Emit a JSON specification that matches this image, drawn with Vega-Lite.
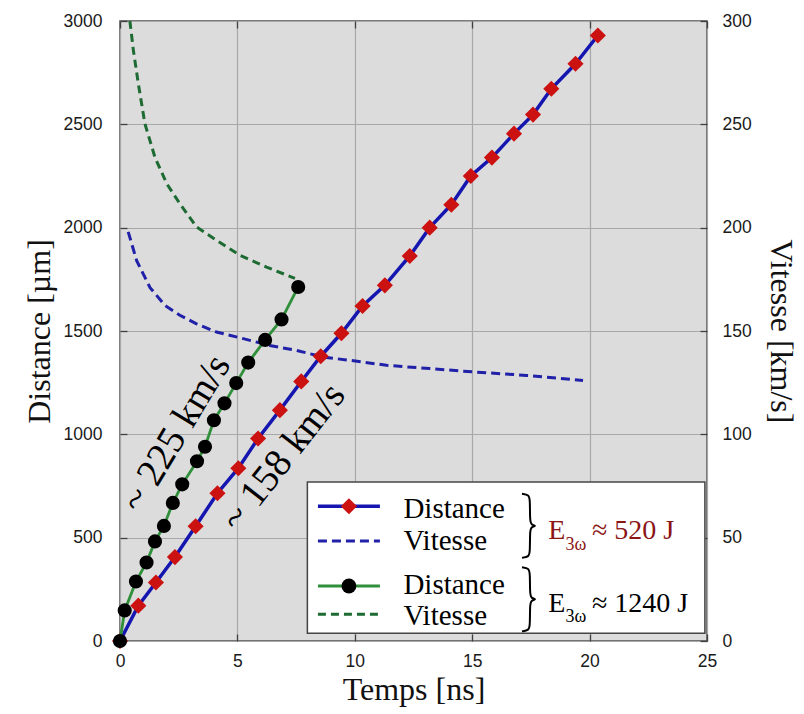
{
  "$schema": "https://vega.github.io/schema/vega-lite/v6.json",
  "width": 587,
  "height": 620,
  "autosize": {"type": "none"},
  "padding": {"left": 120, "top": 21, "right": 97, "bottom": 73},
  "background": "white",
  "config": {
    "view": {"fill": "#dcdcdc", "stroke": "#505050", "strokeWidth": 1.5},
    "axis": {
      "labelFont": "Liberation Sans", "labelFontSize": 17.5, "labelColor": "#1a1a1a",
      "titleFont": "Liberation Serif", "titleFontSize": 32, "titleFontWeight": "normal", "titleColor": "#111111",
      "gridColor": "#a8a8a8", "gridWidth": 1.2, "gridOpacity": 1,
      "domain": false, "tickColor": "#404040", "tickWidth": 1.3, "tickSize": -7
    }
  },
  "datasets": {
    "dist": [
      {"s": "E520", "t": 0, "d": 0}, {"s": "E520", "t": 0.78, "d": 171}, {"s": "E520", "t": 1.53, "d": 283},
      {"s": "E520", "t": 2.34, "d": 406}, {"s": "E520", "t": 3.22, "d": 555}, {"s": "E520", "t": 4.15, "d": 715},
      {"s": "E520", "t": 5.04, "d": 836}, {"s": "E520", "t": 5.88, "d": 980}, {"s": "E520", "t": 6.81, "d": 1117},
      {"s": "E520", "t": 7.72, "d": 1256}, {"s": "E520", "t": 8.55, "d": 1378}, {"s": "E520", "t": 9.43, "d": 1489},
      {"s": "E520", "t": 10.33, "d": 1621}, {"s": "E520", "t": 11.28, "d": 1721}, {"s": "E520", "t": 12.34, "d": 1863},
      {"s": "E520", "t": 13.19, "d": 2000}, {"s": "E520", "t": 14.11, "d": 2111}, {"s": "E520", "t": 14.94, "d": 2250},
      {"s": "E520", "t": 15.84, "d": 2339}, {"s": "E520", "t": 16.78, "d": 2455}, {"s": "E520", "t": 17.59, "d": 2547},
      {"s": "E520", "t": 18.37, "d": 2672}, {"s": "E520", "t": 19.4, "d": 2793}, {"s": "E520", "t": 20.35, "d": 2930},
      {"s": "E1240", "t": 0, "d": 0}, {"s": "E1240", "t": 0.2, "d": 148}, {"s": "E1240", "t": 0.68, "d": 288},
      {"s": "E1240", "t": 1.13, "d": 380}, {"s": "E1240", "t": 1.49, "d": 482}, {"s": "E1240", "t": 1.87, "d": 557},
      {"s": "E1240", "t": 2.25, "d": 668}, {"s": "E1240", "t": 2.65, "d": 758}, {"s": "E1240", "t": 3.28, "d": 870},
      {"s": "E1240", "t": 3.62, "d": 940}, {"s": "E1240", "t": 4.0, "d": 1068}, {"s": "E1240", "t": 4.45, "d": 1150},
      {"s": "E1240", "t": 4.95, "d": 1248}, {"s": "E1240", "t": 5.46, "d": 1347}, {"s": "E1240", "t": 6.18, "d": 1457},
      {"s": "E1240", "t": 6.88, "d": 1556}, {"s": "E1240", "t": 7.59, "d": 1713}
    ],
    "vel": [
      {"s": "E520", "t": 0.35, "v": 198}, {"s": "E520", "t": 0.71, "v": 184}, {"s": "E520", "t": 1.28, "v": 171},
      {"s": "E520", "t": 1.91, "v": 162.4}, {"s": "E520", "t": 2.55, "v": 157.6}, {"s": "E520", "t": 3.26, "v": 153.5},
      {"s": "E520", "t": 4.11, "v": 149.5}, {"s": "E520", "t": 5.25, "v": 146.3}, {"s": "E520", "t": 6.38, "v": 143},
      {"s": "E520", "t": 7.52, "v": 140.6}, {"s": "E520", "t": 8.65, "v": 137.4}, {"s": "E520", "t": 9.79, "v": 135.8},
      {"s": "E520", "t": 11.35, "v": 133.4}, {"s": "E520", "t": 13.19, "v": 131.8}, {"s": "E520", "t": 15.18, "v": 130.1},
      {"s": "E520", "t": 17.31, "v": 128.5}, {"s": "E520", "t": 19.72, "v": 126.1},
      {"s": "E1240", "t": 0.42, "v": 300}, {"s": "E1240", "t": 0.57, "v": 285.8}, {"s": "E1240", "t": 0.78, "v": 269.7},
      {"s": "E1240", "t": 1.06, "v": 250.3}, {"s": "E1240", "t": 1.49, "v": 234}, {"s": "E1240", "t": 1.99, "v": 221.3},
      {"s": "E1240", "t": 2.55, "v": 211.6}, {"s": "E1240", "t": 3.26, "v": 200.3}, {"s": "E1240", "t": 4.11, "v": 193.9},
      {"s": "E1240", "t": 5.11, "v": 186.6}, {"s": "E1240", "t": 6.24, "v": 180.9}, {"s": "E1240", "t": 7.45, "v": 175.5}
    ],
    "legbox": [{"t": 7.98, "t2": 24.91, "d": 37, "d2": 769}],
    "legline": [
      {"s": "E520", "k": "solid", "t": 8.43, "t2": 11.07, "d": 651.8},
      {"s": "E520", "k": "dash", "t": 8.43, "t2": 11.07, "d": 483.9},
      {"s": "E1240", "k": "solid", "t": 8.43, "t2": 11.07, "d": 266.1},
      {"s": "E1240", "k": "dash", "t": 8.43, "t2": 11.07, "d": 129.2}
    ],
    "legsym": [{"s": "E520", "t": 9.75, "d": 651.8}, {"s": "E1240", "t": 9.75, "d": 266.1}],
    "legtext": [
      {"t": 12.07, "d": 597, "label": "Distance"}, {"t": 12.07, "d": 439, "label": "Vitesse"},
      {"t": 12.07, "d": 226, "label": "Distance"}, {"t": 12.07, "d": 76, "label": "Vitesse"}
    ],
    "elabel": [
      {"s": "E520", "t": 18.24, "d": 495.5, "label": "E"}, {"s": "E520", "t": 20.1, "d": 495.5, "label": "≈ 520 J"},
      {"s": "E1240", "t": 18.24, "d": 140.3, "label": "E"}, {"s": "E1240", "t": 20.1, "d": 140.3, "label": "≈ 1240 J"}
    ],
    "esub": [
      {"s": "E520", "t": 18.97, "d": 438.9, "label": "3ω"}, {"s": "E1240", "t": 18.97, "d": 92, "label": "3ω"}
    ],
    "brace": [
      {"b": 1, "o": 0, "t": 17.12, "d": 712.3}, {"b": 1, "o": 1, "t": 17.42, "d": 707.4}, {"b": 1, "o": 2, "t": 17.46, "d": 683.2},
      {"b": 1, "o": 3, "t": 17.46, "d": 586.4}, {"b": 1, "o": 4, "t": 17.5, "d": 562.2}, {"b": 1, "o": 5, "t": 17.76, "d": 557.4},
      {"b": 1, "o": 6, "t": 17.5, "d": 552.6}, {"b": 1, "o": 7, "t": 17.46, "d": 528.4}, {"b": 1, "o": 8, "t": 17.46, "d": 431.6},
      {"b": 1, "o": 9, "t": 17.42, "d": 407.4}, {"b": 1, "o": 10, "t": 17.12, "d": 402.6},
      {"b": 2, "o": 0, "t": 17.12, "d": 356.6}, {"b": 2, "o": 1, "t": 17.42, "d": 351.8}, {"b": 2, "o": 2, "t": 17.46, "d": 327.6},
      {"b": 2, "o": 3, "t": 17.46, "d": 230.8}, {"b": 2, "o": 4, "t": 17.5, "d": 206.6}, {"b": 2, "o": 5, "t": 17.76, "d": 201.8},
      {"b": 2, "o": 6, "t": 17.5, "d": 196.9}, {"b": 2, "o": 7, "t": 17.46, "d": 172.7}, {"b": 2, "o": 8, "t": 17.46, "d": 75.9},
      {"b": 2, "o": 9, "t": 17.42, "d": 51.7}, {"b": 2, "o": 10, "t": 17.12, "d": 46.9}
    ],
    "annot": [
      {"s": "E1240", "t": 2.38, "d": 1005, "label": "~ 225 km/s"},
      {"s": "E520", "t": 6.95, "d": 890, "label": "~ 158 km/s"}
    ]
  },
  "layer": [
    {
      "data": {"name": "vel"},
      "encoding": {
        "x": {"field": "t", "type": "quantitative", "scale": {"domain": [0, 25], "nice": false, "zero": false},
              "axis": {"orient": "top", "labels": false, "title": null, "grid": false, "values": [0, 5, 10, 15, 20, 25]}},
        "y": {"field": "v", "type": "quantitative", "scale": {"domain": [0, 300], "nice": false},
              "axis": {"orient": "right", "title": "Vitesse [km/s]", "format": "d", "values": [0, 50, 100, 150, 200, 250, 300], "grid": false, "labelPadding": 22, "titlePadding": 12}}
      },
      "layer": [
        {"transform": [{"filter": "datum.s == 'E520'"}], "mark": {"type": "line", "color": "#2020a8", "strokeWidth": 3, "strokeDash": [9, 5]}},
        {"transform": [{"filter": "datum.s == 'E1240'"}], "mark": {"type": "line", "color": "#1d6b32", "strokeWidth": 3, "strokeDash": [8, 5]}}
      ]
    },
    {
      "encoding": {
        "x": {"field": "t", "type": "quantitative", "scale": {"domain": [0, 25], "nice": false, "zero": false},
              "axis": {"title": "Temps [ns]", "format": "d", "values": [0, 5, 10, 15, 20, 25], "labelPadding": 18, "titlePadding": 5, "labelFlush": false, "grid": true}},
        "y": {"field": "d", "type": "quantitative", "scale": {"domain": [0, 3000], "nice": false},
              "axis": {"title": "Distance [µm]", "format": "d", "values": [0, 500, 1000, 1500, 2000, 2500, 3000], "labelPadding": 25, "titlePadding": 7, "grid": true}}
      },
      "layer": [
        {"data": {"name": "dist"}, "transform": [{"filter": "datum.s == 'E520'"}], "mark": {"type": "line", "color": "#1515b0", "strokeWidth": 3.5}},
        {"data": {"name": "dist"}, "transform": [{"filter": "datum.s == 'E520'"}], "mark": {"type": "point", "shape": "diamond", "filled": true, "color": "#cc1111", "size": 260, "opacity": 1}},
        {"data": {"name": "dist"}, "transform": [{"filter": "datum.s == 'E1240'"}], "mark": {"type": "line", "color": "#2f8f3a", "strokeWidth": 2.8}},
        {"data": {"name": "dist"}, "transform": [{"filter": "datum.s == 'E1240'"}], "mark": {"type": "point", "shape": "circle", "filled": true, "color": "#000000", "size": 200, "opacity": 1}},
        {"data": {"name": "annot"}, "transform": [{"filter": "datum.s == 'E1240'"}], "mark": {"type": "text", "angle": 301, "font": "Liberation Serif", "fontSize": 39, "color": "#000000", "align": "center", "baseline": "middle"}, "encoding": {"text": {"field": "label"}}},
        {"data": {"name": "annot"}, "transform": [{"filter": "datum.s == 'E520'"}], "mark": {"type": "text", "angle": 308, "font": "Liberation Serif", "fontSize": 39, "color": "#000000", "align": "center", "baseline": "middle"}, "encoding": {"text": {"field": "label"}}},
        {"data": {"name": "legbox"}, "mark": {"type": "rect", "fill": "#ffffff", "stroke": "#454545", "strokeWidth": 1.5}, "encoding": {"x2": {"field": "t2"}, "y2": {"field": "d2"}}},
        {"data": {"name": "legline"}, "transform": [{"filter": "datum.s == 'E520' && datum.k == 'solid'"}], "mark": {"type": "rule", "color": "#1515b0", "strokeWidth": 3.5}, "encoding": {"x2": {"field": "t2"}}},
        {"data": {"name": "legline"}, "transform": [{"filter": "datum.s == 'E520' && datum.k == 'dash'"}], "mark": {"type": "rule", "color": "#2020a8", "strokeWidth": 3, "strokeDash": [9, 5]}, "encoding": {"x2": {"field": "t2"}}},
        {"data": {"name": "legline"}, "transform": [{"filter": "datum.s == 'E1240' && datum.k == 'solid'"}], "mark": {"type": "rule", "color": "#2f8f3a", "strokeWidth": 3}, "encoding": {"x2": {"field": "t2"}}},
        {"data": {"name": "legline"}, "transform": [{"filter": "datum.s == 'E1240' && datum.k == 'dash'"}], "mark": {"type": "rule", "color": "#1d6b32", "strokeWidth": 3, "strokeDash": [8, 5]}, "encoding": {"x2": {"field": "t2"}}},
        {"data": {"name": "legsym"}, "transform": [{"filter": "datum.s == 'E520'"}], "mark": {"type": "point", "shape": "diamond", "filled": true, "color": "#cc1111", "size": 260, "opacity": 1}},
        {"data": {"name": "legsym"}, "transform": [{"filter": "datum.s == 'E1240'"}], "mark": {"type": "point", "shape": "circle", "filled": true, "color": "#000000", "size": 220, "opacity": 1}},
        {"data": {"name": "legtext"}, "mark": {"type": "text", "font": "Liberation Serif", "fontSize": 29, "color": "#000000", "align": "left", "baseline": "alphabetic"}, "encoding": {"text": {"field": "label"}}},
        {"data": {"name": "elabel"}, "transform": [{"filter": "datum.s == 'E520'"}], "mark": {"type": "text", "font": "Liberation Serif", "fontSize": 28, "color": "#8b1515", "align": "left", "baseline": "alphabetic"}, "encoding": {"text": {"field": "label"}}},
        {"data": {"name": "elabel"}, "transform": [{"filter": "datum.s == 'E1240'"}], "mark": {"type": "text", "font": "Liberation Serif", "fontSize": 28, "color": "#000000", "align": "left", "baseline": "alphabetic"}, "encoding": {"text": {"field": "label"}}},
        {"data": {"name": "esub"}, "transform": [{"filter": "datum.s == 'E520'"}], "mark": {"type": "text", "font": "Liberation Serif", "fontSize": 18, "color": "#8b1515", "align": "left", "baseline": "alphabetic"}, "encoding": {"text": {"field": "label"}}},
        {"data": {"name": "esub"}, "transform": [{"filter": "datum.s == 'E1240'"}], "mark": {"type": "text", "font": "Liberation Serif", "fontSize": 18, "color": "#000000", "align": "left", "baseline": "alphabetic"}, "encoding": {"text": {"field": "label"}}},
        {"data": {"name": "brace"}, "mark": {"type": "line", "color": "#000000", "strokeWidth": 2, "interpolate": "basis"}, "encoding": {"detail": {"field": "b"}, "order": {"field": "o", "type": "quantitative"}}}
      ]
    }
  ],
  "resolve": {"scale": {"y": "independent"}, "axis": {"x": "independent"}}
}
